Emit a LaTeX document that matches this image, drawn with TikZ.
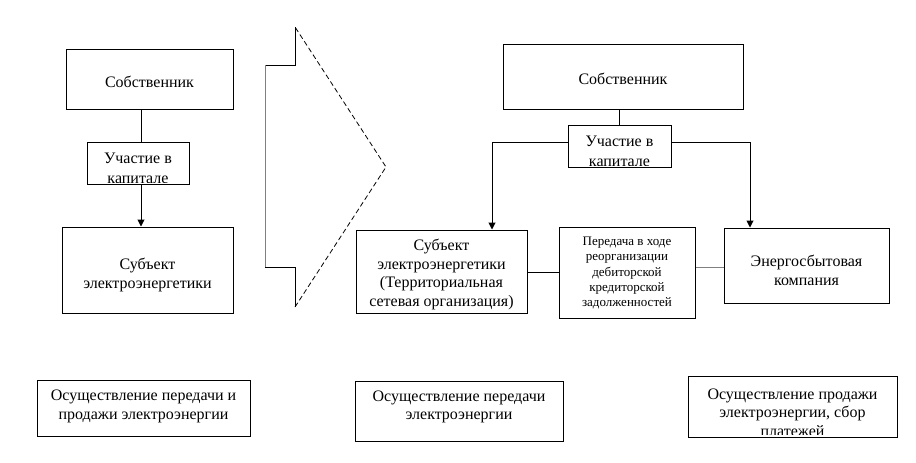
\documentclass[tikz,border=0pt]{standalone}
\usepackage{fontspec}
\setmainfont{Liberation Serif}
\usetikzlibrary{arrows.meta,calc}
\begin{document}
\begin{tikzpicture}[x=1pt,y=-1pt,
  box/.style={draw, line width=1pt, inner sep=0pt},
  txt/.style={inner sep=0pt, align=center, font=\fontsize{16}{18.5}\selectfont},
  wide/.style={font=\fontsize{16}{19.5}\selectfont},
  small/.style={font=\fontsize{13}{15.3}\selectfont},
  ln/.style={line width=1pt},
  arr/.style={line width=1pt, -{Triangle[length=7pt,width=7pt]}}]
\useasboundingbox (0,0) rectangle (916,463);

% ---------- left column ----------
\node[box, minimum width=167pt, minimum height=60pt] (sob1) at (149.5,79) {};
\node[txt] (sob1t) at (149.5,82) {Собственник};
\node[box, minimum width=102pt, minimum height=42pt] (uc1) at (138,163) {};
\begin{scope}
  \clip ([yshift=2.5pt]uc1.south west) rectangle (uc1.north east);
  \node[txt, wide] (uc1t) at (138,168.5) {Участие в\\капитале};
\end{scope}
\node[box, minimum width=171pt, minimum height=86pt] (sub1) at (147.5,270) {};
\node[txt] (sub1t) at (147.5,275) {Субъект\\электроэнергетики};

\draw[ln] (sob1.south -| 141,0) -- (uc1.north -| 141,0);
\draw[arr] (uc1.south -| 141,0) -- (sub1.north -| 141,0);

% ---------- big arrow ----------
\coordinate (a1) at (295,27);
\coordinate (a2) at (295,65);
\coordinate (a3) at (265,65);
\coordinate (a4) at (265,267);
\coordinate (a5) at (295,267);
\coordinate (a6) at (295,307);
\coordinate (tip) at (386,167);
\draw[ln] (a1) -- (a2) -- (a3);
\draw[ln, gray] (a3) -- (a4);
\draw[ln] (a4) -- (a5) -- (a6);
\draw[line width=0.8pt, dash pattern=on 5pt off 3pt] (a6) -- (tip) -- (a1);

% ---------- right part ----------
\node[box, minimum width=240pt, minimum height=65pt] (sob2) at (623,76.5) {};
\node[txt] (sob2t) at (623,78.5) {Собственник};
\node[box, minimum width=103pt, minimum height=42pt] (uc2) at (619.5,146) {};
\begin{scope}
  \clip ([yshift=2.5pt]uc2.south west) rectangle (uc2.north east);
  \node[txt, wide] (uc2t) at (619.5,151.5) {Участие в\\капитале};
\end{scope}
\node[box, minimum width=171pt, minimum height=83pt] (tso) at (441.5,271.5) {};
\node[txt] (tsot) at (441.5,274.5)
  {Субъект\\электроэнергетики\\(Территориальная\\сетевая организация)};
\node[box, minimum width=136pt, minimum height=91pt] (per) at (627,272.5) {};
\node[txt, small] (pert) at (627,273)
  {Передача в ходе\\реорганизации\\дебиторской\\кредиторской\\задолженностей};
\node[box, minimum width=165pt, minimum height=75pt] (en) at (806.5,265.5) {};
\node[txt] (ent) at (806.5,270.5) {Энергосбытовая\\компания};

\draw[ln] (sob2.south -| 619,0) -- (uc2.north -| 619,0);
\draw[arr] (uc2.west |- 0,142) -- (492,142) -- (tso.north -| 492,0);
\draw[arr] (uc2.east |- 0,142) -- (750,142) -- (en.north -| 750,0);
\draw[ln] (tso.east |- 0,272) -- (per.west |- 0,272);
\draw[ln, gray] (per.east |- 0,267) -- (en.west |- 0,267);

% ---------- bottom boxes ----------
\node[box, minimum width=213pt, minimum height=56pt] (b1) at (143.5,408) {};
\node[txt] (b1t) at (143.5,406.5) {Осуществление передачи и\\продажи электроэнергии};
\node[box, minimum width=208pt, minimum height=60pt] (b2) at (459,411) {};
\node[txt] (b2t) at (459,407) {Осуществление передачи\\электроэнергии};
\node[box, minimum width=209pt, minimum height=61pt] (b3) at (792.5,406.5) {};
\begin{scope}
  \clip ([yshift=3.5pt]b3.south west) rectangle (b3.north east);
  \node[txt] (b3t) at (792.5,412.5) {Осуществление продажи\\электроэнергии, сбор\\платежей};
\end{scope}
\end{tikzpicture}
\end{document}
